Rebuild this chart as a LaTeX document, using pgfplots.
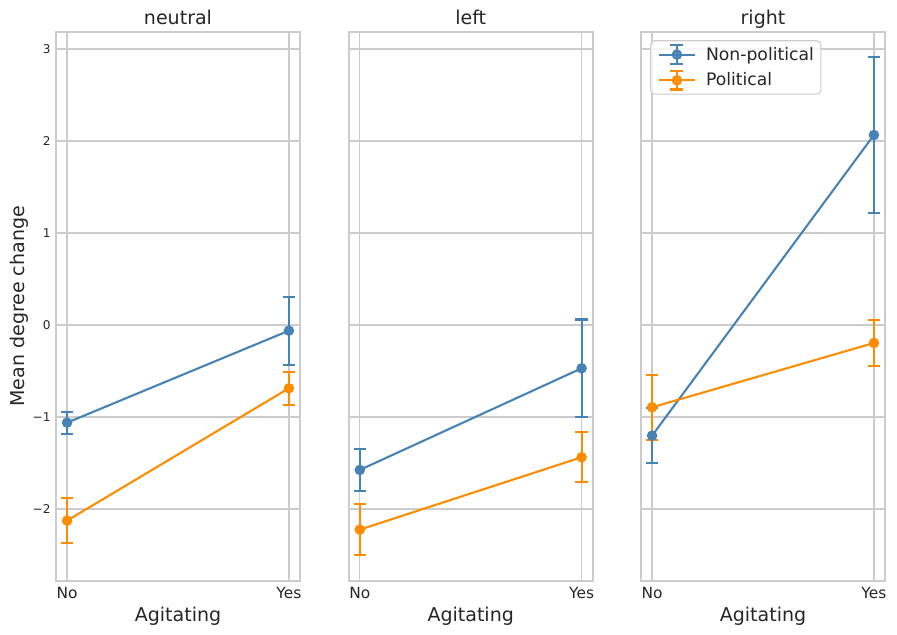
\documentclass[border=0pt]{standalone}
\usepackage{pgfplots}
\pgfplotsset{compat=1.18}
\usepackage{fontspec}
\setmainfont{DejaVu Sans}

\definecolor{npblue}{RGB}{70,130,180}
\definecolor{porange}{RGB}{255,140,0}
\definecolor{txt}{gray}{0.15}
\definecolor{gridc}{gray}{0.8}

\newcommand{\labfont}{\fontsize{13.7}{16.4}\selectfont}

\pgfplotsset{
    panel/.style={
        scale only axis, width=175.68pt, height=395.06pt, anchor=south west,
        xmin=-0.05, xmax=1.05, ymin=-2.78, ymax=3.185,
        xtick={0,1}, xticklabels={No,Yes},
        ytick={-2,-1,0,1,2,3},
        grid=major, grid style={gridc, line width=1pt},
        axis line style={gridc, line width=1.25pt},
        major tick length=0pt,
        xticklabel style={font=\fontsize{11.1}{13.3}\selectfont, text=txt, anchor=base, yshift=-12.5pt, inner sep=0pt},
        yticklabel style={font=\fontsize{8.7}{10.4}\selectfont, text=txt, anchor=east, inner sep=0pt, xshift=-3.8pt},
        title style={at={(axis description cs:0.5,0.9985)}, anchor=base, font=\labfont, text=txt, inner sep=0pt},
        xlabel={Agitating},
        xlabel style={at={(axis description cs:0.5,-0.0747)}, anchor=base, font=\labfont, text=txt, inner sep=0pt},
        every axis plot/.append style={line width=1.5pt, mark=*, mark size=3pt, mark options={solid}},
    },
    eb/.style={
        error bars/.cd, y dir=both, y explicit, error mark=|,
        error mark options={mark size=4.5pt, line width=1.5pt},
        error bar style={line width=1.5pt},
    },
}

\begin{document}
\begin{tikzpicture}
\useasboundingbox (0,0) rectangle (645.84pt,457.2pt);

% neutral
\begin{axis}[panel, at={(40.32pt,39.1pt)}, title={neutral},
    yticklabels={−2,−1,0,1,2,3},
    ylabel={Mean degree change},
    ylabel style={at={(axis description cs:-0.131,0.5)}, anchor=base, font=\labfont, text=txt, inner sep=0pt}]
\addplot[color=npblue, eb] coordinates {(0,-1.062) +- (0,0.12) (1,-0.062) +- (0,0.37)};
\addplot[color=porange, eb] coordinates {(0,-2.127) +- (0,0.245) (1,-0.688) +- (0,0.18)};
\end{axis}

% left
\begin{axis}[panel, at={(251.06pt,39.1pt)}, title={left}, yticklabels={}]
\addplot[color=npblue, eb] coordinates {(0,-1.576) +- (0,0.23) (1,-0.471) +- (0,0.53)};
\addplot[color=porange, eb] coordinates {(0,-2.225) +- (0,0.28) (1,-1.438) +- (0,0.27)};
\end{axis}

% right
\begin{axis}[panel, at={(461.52pt,39.1pt)}, title={right}, yticklabels={},
    legend style={at={(axis description cs:0.037,0.985)}, anchor=north west,
        draw=gridc, line width=0.8pt, rounded corners=3pt, fill=white, fill opacity=0.8, text opacity=1,
        font=\fontsize{12.4}{14.9}\selectfont, text=txt,
        inner xsep=5pt, inner ysep=2.6pt, row sep=3.8pt, column sep=7pt,
        nodes={inner sep=0pt}},
    legend cell align=left,
    legend image code/.code={
        \draw[#1, mark=none] (0pt,0pt) -- (26.4pt,0pt);
        \draw[#1, mark=none] (13.2pt,-6.6pt) -- (13.2pt,6.6pt);
        \draw[#1, mark=none] (8.5pt,6.6pt) -- (17.9pt,6.6pt);
        \draw[#1, mark=none] (8.5pt,-6.6pt) -- (17.9pt,-6.6pt);
        \fill[#1] (13.2pt,0pt) circle (3pt);
    }]
\addplot[color=npblue, eb] coordinates {(0,-1.203) +- (0,0.30) (1,2.065) +- (0,0.85)};
\addlegendentry{Non-political}
\addplot[color=porange, eb] coordinates {(0,-0.895) +- (0,0.355) (1,-0.196) +- (0,0.25)};
\addlegendentry{Political}
\end{axis}
\end{tikzpicture}
\end{document}
